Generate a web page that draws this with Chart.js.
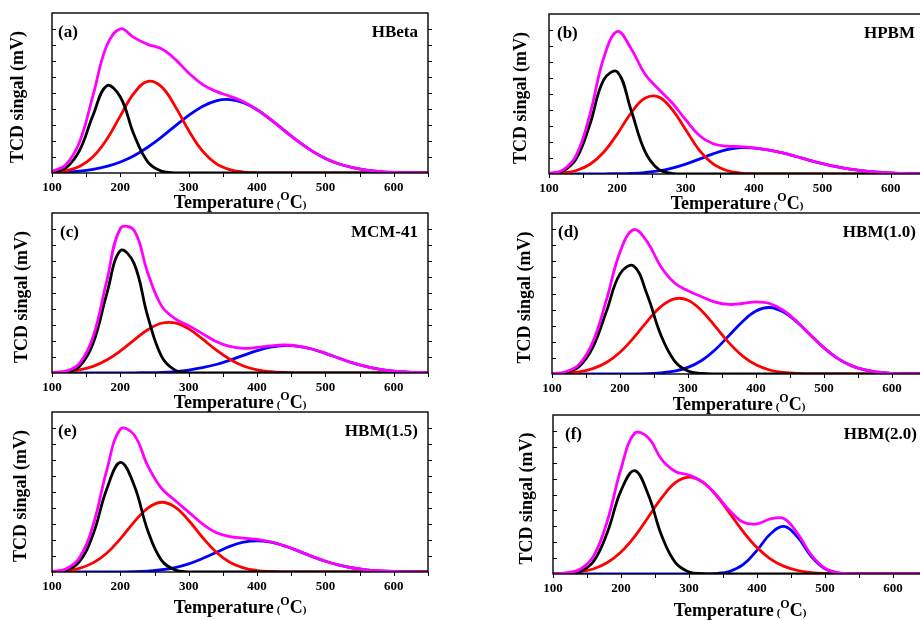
<!DOCTYPE html>
<html>
<head>
<meta charset="utf-8">
<script src="https://cdn.jsdelivr.net/npm/chart.js@4.4.1/dist/chart.umd.min.js"></script>
<style>
  html, body { margin: 0; padding: 0; background: #fff; width: 920px; height: 620px; overflow: hidden; }
  canvas { position: absolute; }
</style>
</head>
<body>
<script>
// Temperature grid (oC) shared by every panel
const temps = [100,120,140,160,180,200,220,240,260,280,300,320,340,360,380,400,420,440,460,480,500,520,540,560,580,600,620,640,650];

// (a) HBeta
const aSum   = [1.0,5.0,19.0,48.5,79.5,90.1,84.6,80.4,77.6,71.2,62.5,55.4,51.0,48.0,44.6,39.6,33.4,26.5,19.8,13.8,9.1,5.6,3.3,1.8,0.9,0.4,0.2,0.1,0.0];
const aBlack = [0.4,3.1,13.8,36.1,54.5,47.5,23.9,7.0,1.2,0.1,0,0,0,0,0,0,0,0,0,0,0,0,0,0,0,0,0,0,0];
const aRed   = [0.3,1.3,4.0,10.1,20.9,35.7,49.9,57.3,54.0,41.8,26.5,13.8,5.9,2.1,0.6,0.1,0,0,0,0,0,0,0,0,0,0,0,0,0];
const aBlue  = [0.3,0.6,1.2,2.3,4.1,6.9,10.8,16.1,22.4,29.3,36.0,41.6,45.1,45.9,44.0,39.5,33.4,26.5,19.8,13.8,9.1,5.6,3.3,1.8,0.9,0.4,0.2,0.1,0.0];

// (b) HPBM
const bSum   = [0.4,2.4,11.8,37.4,72.5,89.1,78.5,62.7,53.1,44.5,33.9,24.1,18.9,17.4,17.1,16.3,15.1,13.3,11.1,8.7,6.5,4.6,3.1,1.9,1.2,0.7,0.3,0.2,0.1];
const bBlack = [0.2,1.7,9.6,31.3,58.8,63.8,40.0,14.5,3.0,0.4,0,0,0,0,0,0,0,0,0,0,0,0,0,0,0,0,0,0,0];
const bRed   = [0.2,0.7,2.2,6.1,13.6,25.1,38.1,47.3,48.2,40.4,27.7,14.8,6.3,2.2,0.6,0.1,0,0,0,0,0,0,0,0,0,0,0,0,0];
const bBlue  = [0,0,0,0,0.1,0.2,0.4,0.9,1.9,3.7,6.2,9.3,12.6,15.2,16.5,16.2,15.1,13.3,11.1,8.7,6.5,4.6,3.1,1.9,1.2,0.7,0.3,0.2,0.1];

// (c) MCM-41
const cSum   = [0.3,1.2,5.9,22.5,57.4,90.3,89.2,62.7,42.1,34.0,29.6,24.6,19.7,16.6,15.4,16.0,17.0,17.5,16.8,15.0,12.3,9.2,6.3,4.0,2.3,1.2,0.6,0.3,0.2];
const cBlack = [0.0,0.5,4.0,18.4,49.3,76.5,68.5,35.5,10.6,1.8,0.2,0,0,0,0,0,0,0,0,0,0,0,0,0,0,0,0,0,0];
const cRed   = [0.3,0.7,1.9,4.1,8.1,13.8,20.6,27.0,31.1,31.3,27.6,21.3,14.4,8.6,4.4,2.0,0.8,0.3,0.1,0,0,0,0,0,0,0,0,0,0];
const cBlue  = [0,0,0,0,0,0,0.1,0.2,0.4,0.9,1.8,3.3,5.3,8.0,11.0,14.0,16.2,17.2,16.7,15.0,12.3,9.2,6.3,4.0,2.3,1.2,0.6,0.3,0.2];

// (d) HBM(1.0)
const dSum   = [0.2,1.4,6.0,19.8,46.0,75.7,89.7,82.1,66.8,56.7,51.7,48.0,44.7,43.2,43.8,44.8,43.8,39.6,32.6,24.3,16.2,9.7,5.2,2.5,1.1,0.4,0.1,0.0,0.0];
const dBlack = [0.1,0.9,4.7,16.5,38.9,62.2,67.2,49.2,24.3,8.2,1.8,0.3,0,0,0,0,0,0,0,0,0,0,0,0,0,0,0,0,0];
const dRed   = [0.1,0.5,1.3,3.3,7.1,13.5,22.4,32.7,41.8,46.7,45.8,39.3,29.6,19.5,11.3,5.7,2.5,1.0,0.3,0.1,0,0,0,0,0,0,0,0,0];
const dBlue  = [0,0,0,0,0,0,0.1,0.2,0.7,1.8,4.1,8.4,15.1,23.7,32.5,39.1,41.3,38.6,32.3,24.2,16.2,9.7,5.2,2.5,1.1,0.4,0.1,0.0,0.0];

// (e) HBM(1.5)
const eSum   = [0.3,1.8,8.7,29.1,63.4,89.3,85.8,66.5,52.4,44.7,37.4,30.1,24.7,22.1,21.2,20.4,18.9,16.4,13.2,9.8,6.7,4.3,2.5,1.3,0.7,0.3,0.1,0.0,0.0];
const eBlack = [0.1,1.0,6.4,23.4,51.7,68.5,54.4,26.0,7.4,1.3,0.1,0,0,0,0,0,0,0,0,0,0,0,0,0,0,0,0,0,0];
const eRed   = [0.2,0.8,2.3,5.7,11.7,20.7,31.2,39.9,43.6,40.6,32.2,21.7,12.5,6.1,2.6,0.9,0.3,0.1,0,0,0,0,0,0,0,0,0,0,0];
const eBlue  = [0,0,0,0,0,0.1,0.2,0.6,1.4,2.8,5.1,8.4,12.2,16.0,18.6,19.5,18.6,16.3,13.2,9.8,6.7,4.3,2.5,1.3,0.7,0.3,0.1,0.0,0.0];

// (f) HBM(2.0)
const fSum   = [0.2,0.7,3.0,11.5,33.5,66.2,88.5,85.7,71.9,64.5,62.2,58.0,49.8,39.8,32.5,31.5,34.7,34.7,25.2,11.9,3.6,0.7,0.1,0,0,0,0,0,0];
const fBlack = [0.0,0.2,1.6,8.2,26.3,52.4,65.0,50.0,23.9,7.1,1.3,0.2,0,0,0,0,0,0,0,0,0,0,0,0,0,0,0,0,0];
const fRed   = [0.2,0.5,1.4,3.3,7.2,13.8,23.5,35.7,48.0,57.4,60.9,57.8,49.5,38.1,26.5,16.6,9.4,4.8,2.2,0.9,0.3,0.1,0,0,0,0,0,0,0];
const fBlue  = [0,0,0,0,0,0,0,0,0,0,0,0,0.3,1.7,6.0,14.9,25.3,29.9,23.0,11.0,3.3,0.6,0.1,0,0,0,0,0,0];

const tags  = ['(a)', '(b)', '(c)', '(d)', '(e)', '(f)'];
const names = ['HBeta', 'HPBM', 'MCM-41', 'HBM(1.0)', 'HBM(1.5)', 'HBM(2.0)'];
const seriesSets = [
  [aSum, aBlack, aRed, aBlue],
  [bSum, bBlack, bRed, bBlue],
  [cSum, cBlack, cRed, cBlue],
  [dSum, dBlack, dRed, dBlue],
  [eSum, eBlack, eRed, eBlue],
  [fSum, fBlack, fRed, fBlue]
];
const lineColors = ['#ff00ff', '#000000', '#ff0000', '#0000ff'];
const xTicks = [100, 200, 300, 400, 500, 600];

// layout of each panel: plot box on the page, gaps for titles
const layout = [
  { x: 52,  y: 13,  w: 376, h: 160, titleGap: 29,   yTitleX: 18,  tagDx: 6 },
  { x: 549, y: 14,  w: 376, h: 160, titleGap: 29,   yTitleX: 521, tagDx: 8 },
  { x: 52,  y: 213, w: 376, h: 160, titleGap: 28.5, yTitleX: 22,  tagDx: 8 },
  { x: 552, y: 213, w: 374, h: 161, titleGap: 30,   yTitleX: 525, tagDx: 6 },
  { x: 52,  y: 412, w: 376, h: 160, titleGap: 34.5, yTitleX: 21,  tagDx: 6 },
  { x: 553, y: 415, w: 374, h: 159, titleGap: 36,   yTitleX: 527, tagDx: 12 }
];

const PAD_L = 52, PAD_T = 14, PAD_R = 14, PAD_B = 56;
const SERIF = '"Liberation Serif", "Times New Roman", serif';

Chart.defaults.font.family = SERIF;
Chart.defaults.color = '#000';

// frame, tick marks, labels and axis titles
const decorate = {
  id: 'decorate',
  afterDraw(chart) {
    const { ctx, chartArea: a, scales } = chart;
    const opt = chart.options.plugins.decorate;
    ctx.save();
    ctx.strokeStyle = '#000';
    ctx.lineWidth = 1.4;
    ctx.strokeRect(a.left, a.top, a.right - a.left, a.bottom - a.top);

    ctx.lineWidth = 1;
    ctx.beginPath();
    for (let t = 100; t <= 650; t += 50) {
      const px = Math.round(scales.x.getPixelForValue(t)) + 0.5;
      ctx.moveTo(px, a.bottom);
      ctx.lineTo(px, a.bottom + 4);
    }
    for (let v = 10; v < 100; v += 10) {
      const py = Math.round(scales.y.getPixelForValue(v)) + 0.5;
      ctx.moveTo(a.left, py);
      ctx.lineTo(a.left + 4, py);
      ctx.moveTo(a.right, py);
      ctx.lineTo(a.right + 4, py);
    }
    ctx.stroke();

    ctx.fillStyle = '#000';
    ctx.textBaseline = 'middle';
    ctx.font = 'bold 17px ' + SERIF;
    ctx.textAlign = 'left';
    ctx.fillText(opt.tag, a.left + opt.tagDx, a.top + 20);
    ctx.textAlign = 'right';
    ctx.fillText(opt.name, a.right - 10, a.top + 20);

    // x title: Temperature (oC)
    const parts = [
      { t: 'Temperature', size: 18, dy: 0, gap: 3 },
      { t: '(', size: 11, dy: 0, gap: 0 },
      { t: 'O', size: 12, dy: -8, gap: 0 },
      { t: 'C', size: 18, dy: 0, gap: 0 },
      { t: ')', size: 11, dy: 0, gap: 0 }
    ];
    let total = 0;
    parts.forEach(p => {
      ctx.font = 'bold ' + p.size + 'px ' + SERIF;
      p.w = ctx.measureText(p.t).width;
      total += p.w + p.gap;
    });
    let cx = (a.left + a.right) / 2 - total / 2;
    const base = a.bottom + opt.titleGap + 6;
    ctx.textAlign = 'left';
    ctx.textBaseline = 'alphabetic';
    parts.forEach(p => {
      ctx.font = 'bold ' + p.size + 'px ' + SERIF;
      ctx.fillText(p.t, cx, base + p.dy);
      cx += p.w + p.gap;
    });

    // y title
    ctx.translate(opt.yTitleX, (a.top + a.bottom) / 2 + 4);
    ctx.rotate(-Math.PI / 2);
    ctx.textAlign = 'center';
    ctx.textBaseline = 'middle';
    ctx.font = 'bold 18px ' + SERIF;
    ctx.fillText('TCD singal (mV)', 0, 0);
    ctx.restore();
  }
};

seriesSets.forEach((set, i) => {
  const L = layout[i];
  const canvas = document.createElement('canvas');
  const cw = L.w + PAD_L + PAD_R;
  const ch = L.h + PAD_T + PAD_B;
  canvas.width = cw;
  canvas.height = ch;
  canvas.style.width = cw + 'px';
  canvas.style.height = ch + 'px';
  canvas.style.left = (L.x - PAD_L) + 'px';
  canvas.style.top = (L.y - PAD_T) + 'px';
  document.body.appendChild(canvas);

  new Chart(canvas, {
    type: 'line',
    data: {
      datasets: set.map((arr, k) => ({
        data: temps.map((t, j) => ({ x: t, y: arr[j] })),
        borderColor: lineColors[k],
        borderWidth: 2.8,
        pointRadius: 0,
        tension: 0.4,
        fill: false
      }))
    },
    options: {
      responsive: false,
      animation: false,
      devicePixelRatio: 1,
      layout: { padding: { left: PAD_L, top: PAD_T, right: PAD_R, bottom: 0 } },
      plugins: {
        legend: { display: false },
        tooltip: { enabled: false },
        decorate: {
          tag: tags[i], name: names[i], titleGap: L.titleGap,
          yTitleX: L.yTitleX - (L.x - PAD_L), tagDx: L.tagDx
        }
      },
      scales: {
        x: {
          type: 'linear', min: 100, max: 650,
          afterFit: s => { s.height = PAD_B; },
          afterBuildTicks: s => { s.ticks = xTicks.map(v => ({ value: v })); },
          grid: { display: false, drawTicks: false },
          border: { display: false },
          ticks: {
            padding: 7, maxRotation: 0, autoSkip: false,
            color: '#000',
            font: { size: 13, weight: 'bold', family: SERIF }
          }
        },
        y: { display: false, min: 0, max: 100 }
      }
    },
    plugins: [decorate]
  });
});
</script>
</body>
</html>
